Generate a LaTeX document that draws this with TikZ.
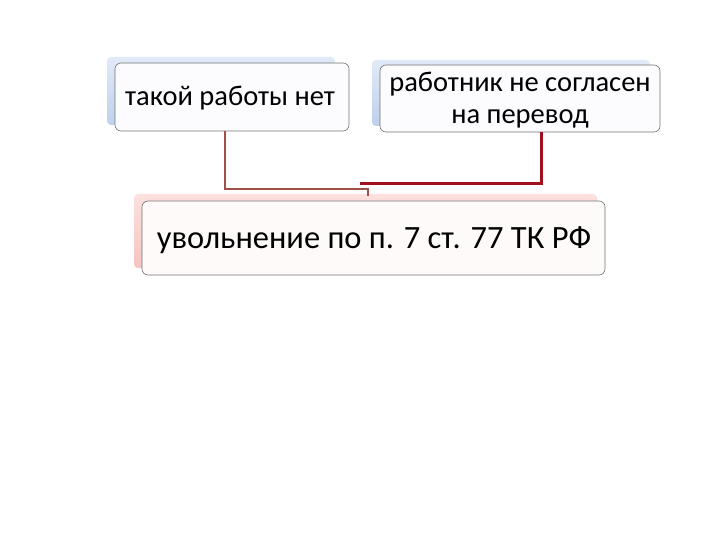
\documentclass[tikz,border=0pt]{standalone}
\usepackage{fontspec}
\setmainfont{Carlito}
\definecolor{bkblueA}{RGB}{225,234,248}
\definecolor{bkblueB}{RGB}{190,208,236}
\definecolor{bkredA}{RGB}{252,225,222}
\definecolor{bkredB}{RGB}{245,195,192}
\begin{document}
\begin{tikzpicture}[x=1pt,y=-1pt,
  back/.style={rounded corners=4pt, inner sep=0pt},
  front/.style={draw=black!55, line width=0.6pt, rounded corners=6pt, fill=white, inner sep=0pt},
  lbl/.style={align=center, inner sep=0pt}]
\useasboundingbox (0,0) rectangle (720,540);
% top-left box
\shade[back, top color=bkblueA, bottom color=bkblueB] (107,57) rectangle (335,125);
\draw[front, fill=blue!1] (115,63) rectangle (349,131);
\node[lbl, font=\fontsize{28.5}{32}\selectfont] (a) at (230,98) {такой работы нет};
\coordinate (abot) at (225,131);
% top-right box
\shade[back, top color=bkblueA, bottom color=bkblueB] (372,60) rectangle (650,126);
\draw[front, fill=blue!1] (380,65) rectangle (660,132);
\node[lbl, font=\fontsize{28.5}{32}\selectfont] (b) at (520,100) {работник не согласен\\на перевод};
\coordinate (bbot) at (541,132);
% bottom box
\shade[back, top color=bkredA, bottom color=bkredB] (134,194) rectangle (597,268);
\draw[front, fill=red!2] (142,201) rectangle (605,275);
\node[lbl, font=\fontsize{32.5}{36}\selectfont] (c) at (374,240) {увольнение по п. 7 ст. 77 ТК РФ};
\coordinate (ctop) at (368,196);
\coordinate (ctop2) at (360,184);
% connectors
\draw[draw={rgb,255:red,160;green,82;blue,74}, line width=1.8pt] (abot) |- (ctop |- 0,189) -- (ctop);
\draw[draw={rgb,255:red,160;green,16;blue,30}, line width=3pt] (bbot) |- (ctop2);
\end{tikzpicture}
\end{document}
